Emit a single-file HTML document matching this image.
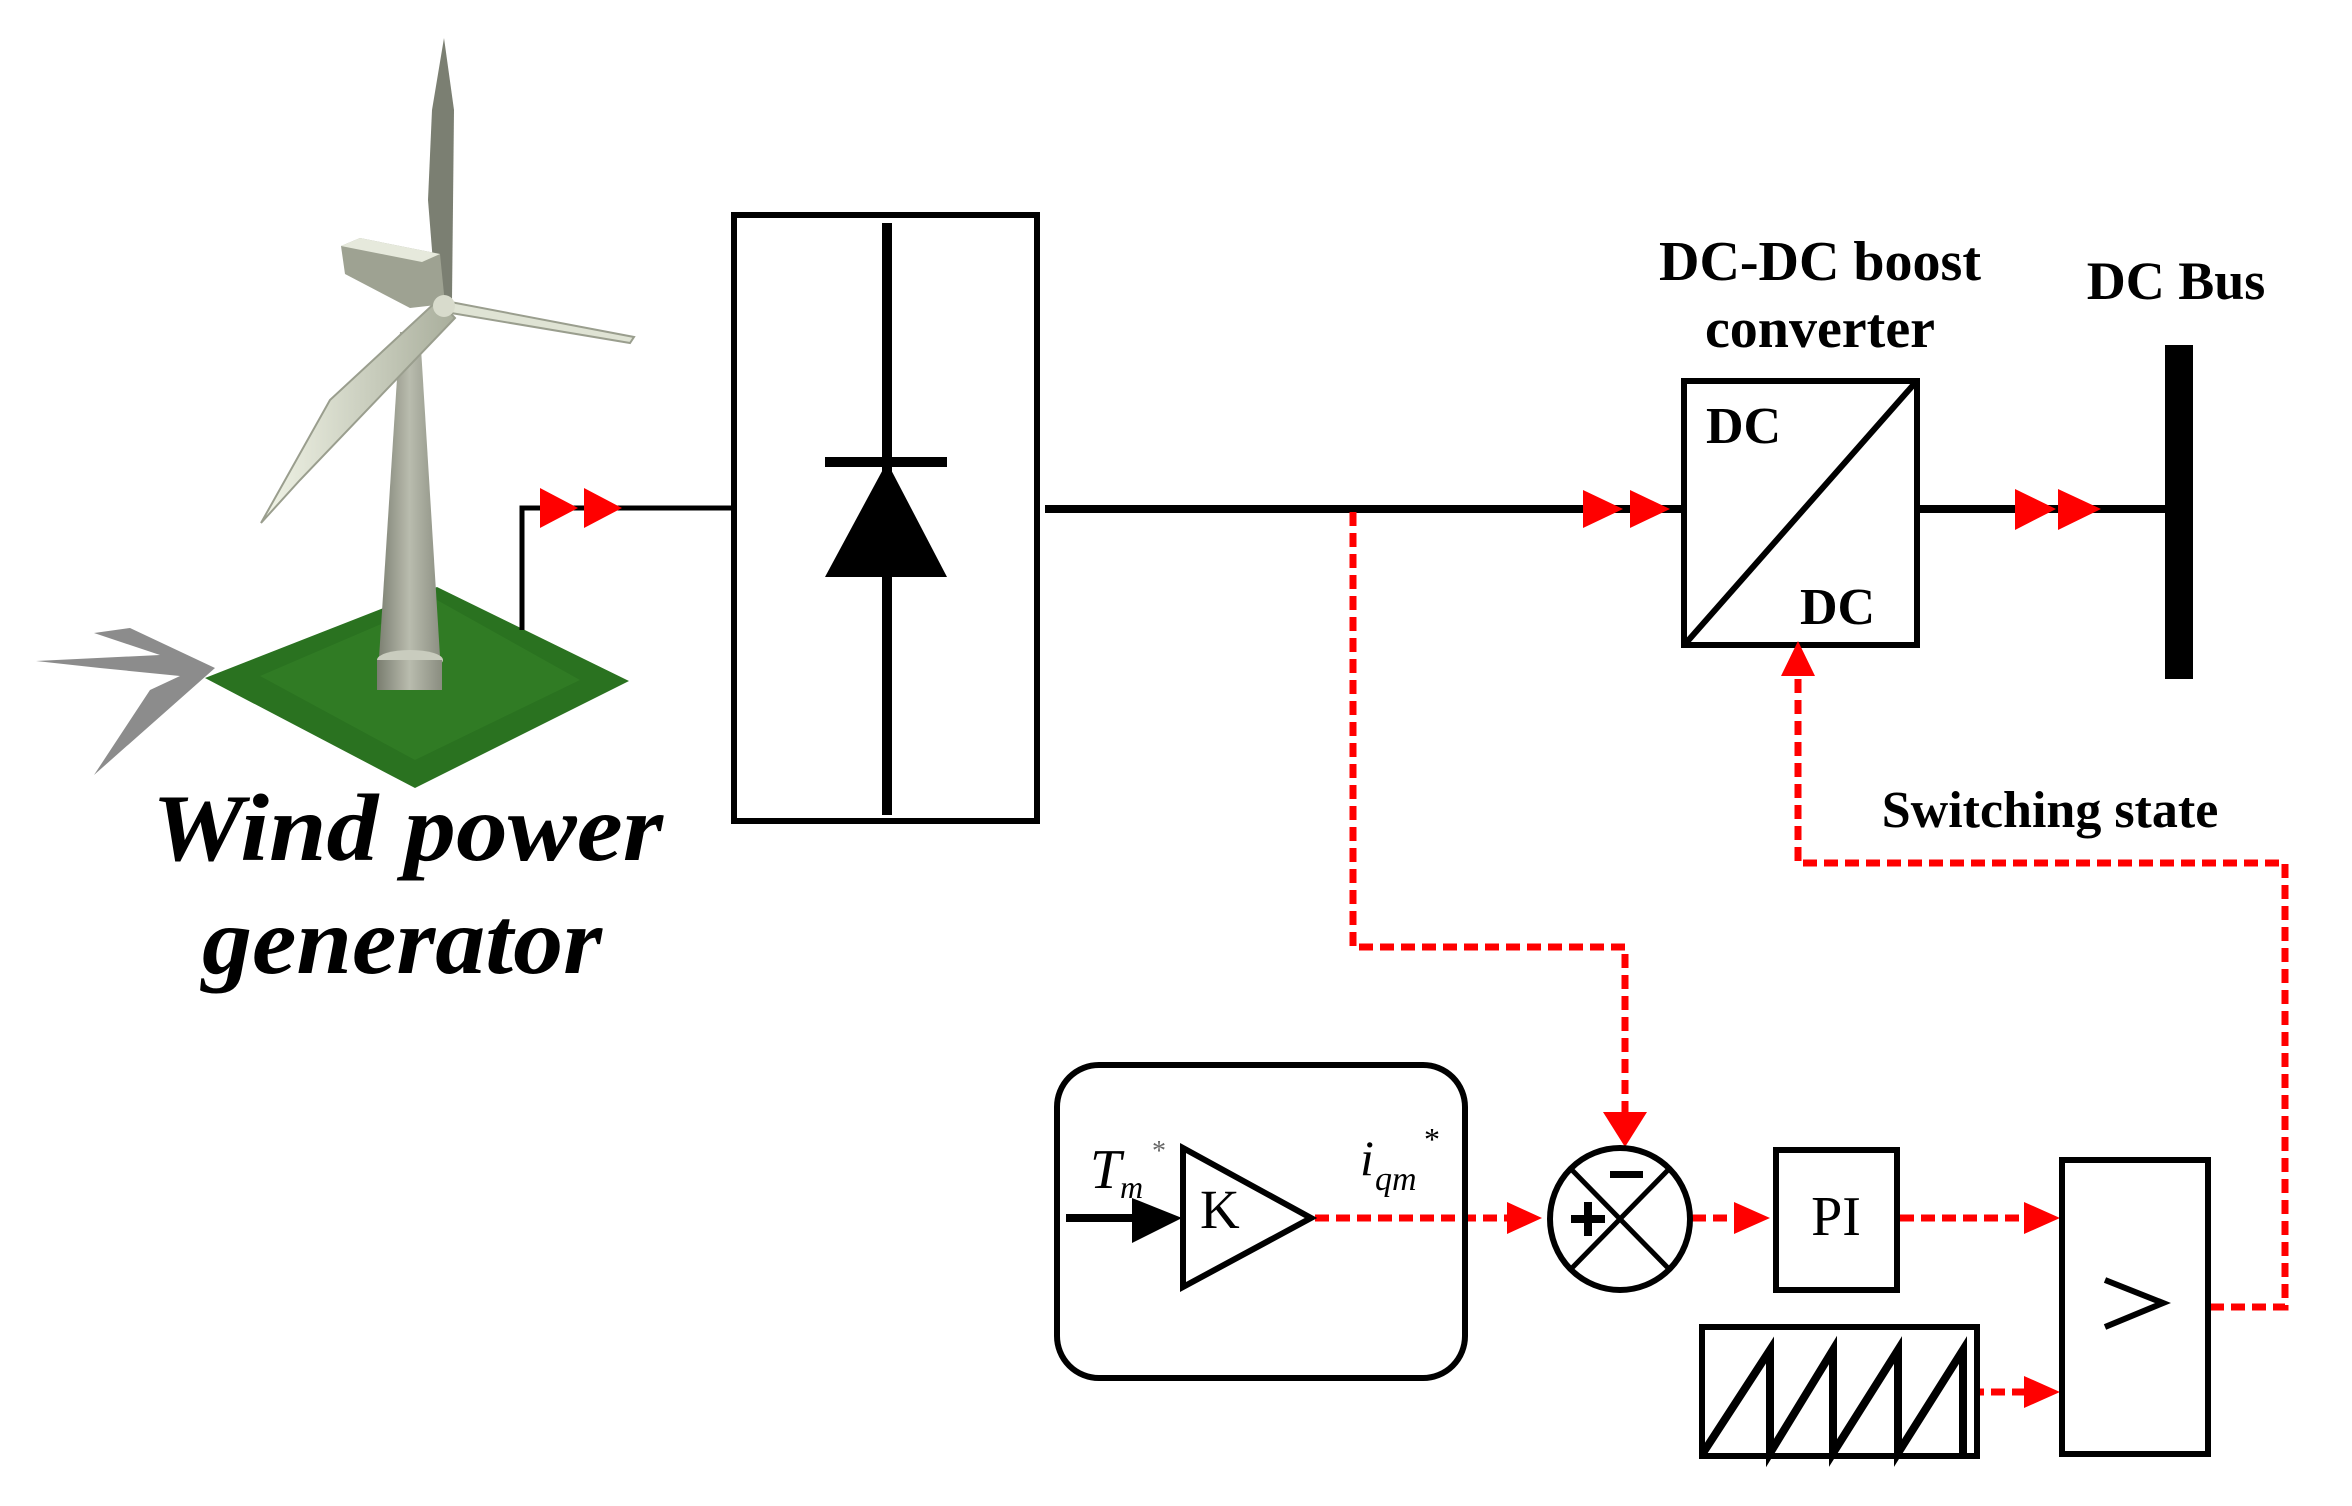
<!DOCTYPE html>
<html><head><meta charset="utf-8"><style>html,body{margin:0;padding:0;background:#fff}svg{display:block}</style></head>
<body>
<svg width="2352" height="1506" viewBox="0 0 2352 1506" xmlns="http://www.w3.org/2000/svg">
<defs>
<linearGradient id="tw" x1="0" x2="1"><stop offset="0" stop-color="#7a7d70"/><stop offset="0.5" stop-color="#b9bcae"/><stop offset="1" stop-color="#8a8d80"/></linearGradient>
<linearGradient id="bl" x1="0" x2="1"><stop offset="0" stop-color="#f2f5e8"/><stop offset="1" stop-color="#a9ae9c"/></linearGradient>
</defs>
<!-- shadow -->
<polygon points="36,661 160,655 94,633 130,628 215,668 94,775 150,690 180,676 100,668" fill="#8c8c8c"/>
<!-- grass -->
<polygon points="205,678 437,587 629,681 415,788" fill="#2a7220"/>
<polygon points="260,676 437,600 580,680 415,760" fill="#3a8a2a" opacity="0.4"/>
<!-- tower -->
<polygon points="400,332 420,332 442,689 377,689" fill="url(#tw)"/>
<ellipse cx="410" cy="660" rx="33" ry="10" fill="#c9ccbe"/>
<rect x="377" y="660" width="65" height="30" fill="url(#tw)"/>
<!-- blades -->
<polygon points="436,300 428,200 432,110 444,38 454,110 452,300" fill="#7b7f72"/>
<polygon points="440,300 634,337 630,343 445,312" fill="#dfe3d4" stroke="#9a9e8e" stroke-width="2"/>
<polygon points="438,300 330,400 261,523 300,480 455,318" fill="url(#bl)" stroke="#9a9e8e" stroke-width="2"/>
<!-- nacelle -->
<polygon points="341,246 360,238 440,254 445,304 410,308 345,274" fill="#9ea292"/>
<polygon points="341,246 360,238 440,254 422,262" fill="#e6e9dc"/>
<circle cx="444" cy="306" r="11" fill="#d8dbcc"/>

<text x="152" y="860" font-family="Liberation Serif, serif" font-style="italic" font-weight="bold" font-size="95" textLength="511" lengthAdjust="spacingAndGlyphs">Wind power</text>
<text x="202" y="973" font-family="Liberation Serif, serif" font-style="italic" font-weight="bold" font-size="95" textLength="400" lengthAdjust="spacingAndGlyphs">generator</text>

<!-- left connection -->
<polyline points="522,630 522,508 734,508" fill="none" stroke="#000" stroke-width="5"/>
<polygon points="540,488 578,508 540,528" fill="#f00"/>
<polygon points="584,488 622,508 584,528" fill="#f00"/>

<!-- rectifier -->
<rect x="734" y="215" width="303" height="606" fill="none" stroke="#000" stroke-width="6"/>
<line x1="887" y1="223" x2="887" y2="815" stroke="#000" stroke-width="10"/>
<line x1="825" y1="462" x2="947" y2="462" stroke="#000" stroke-width="10"/>
<polygon points="887,462 825,577 947,577" fill="#000"/>

<!-- main bus -->
<line x1="1045" y1="509" x2="1682" y2="509" stroke="#000" stroke-width="8"/>
<polygon points="1583,490 1623,509 1583,528" fill="#f00"/>
<polygon points="1630,490 1670,509 1630,528" fill="#f00"/>

<!-- DC-DC -->
<rect x="1684" y="381" width="233" height="264" fill="#fff" stroke="#000" stroke-width="6"/>
<line x1="1686" y1="643" x2="1915" y2="383" stroke="#000" stroke-width="6"/>
<text x="1706" y="443" font-family="Liberation Serif, serif" font-weight="bold" font-size="52">DC</text>
<text x="1800" y="624" font-family="Liberation Serif, serif" font-weight="bold" font-size="52">DC</text>
<text x="1820" y="280" text-anchor="middle" font-family="Liberation Serif, serif" font-weight="bold" font-size="56">DC-DC boost</text>
<text x="1820" y="347" text-anchor="middle" font-family="Liberation Serif, serif" font-weight="bold" font-size="56">converter</text>
<text x="2176" y="299" text-anchor="middle" font-family="Liberation Serif, serif" font-weight="bold" font-size="54">DC Bus</text>

<line x1="1918" y1="509" x2="2166" y2="509" stroke="#000" stroke-width="8"/>
<polygon points="2015,489 2056,509 2015,530" fill="#f00"/>
<polygon points="2058,489 2101,509 2058,530" fill="#f00"/>
<rect x="2165" y="345" width="28" height="334" fill="#000"/>

<text x="2050" y="827" text-anchor="middle" font-family="Liberation Serif, serif" font-weight="bold" font-size="52">Switching state</text>

<!-- feedback dashed -->
<g fill="none" stroke="#f00" stroke-width="7" stroke-dasharray="14,7">
<polyline points="1353,512 1353,947 1625,947 1625,1118"/>
<polyline points="2210,1307 2285,1307 2285,863 1798,863 1798,672"/>
<line x1="1315" y1="1218" x2="1508" y2="1218"/>
<line x1="1692" y1="1218" x2="1736" y2="1218"/>
<line x1="1900" y1="1218" x2="2024" y2="1218"/>
<line x1="1970" y1="1392" x2="2024" y2="1392"/>
</g>
<polygon points="1603,1112 1647,1112 1625,1147" fill="#f00"/>
<polygon points="1781,676 1815,676 1798,641" fill="#f00"/>
<polygon points="1507,1202 1542,1218 1507,1234" fill="#f00"/>
<polygon points="1734,1202 1770,1218 1734,1234" fill="#f00"/>
<polygon points="2024,1202 2060,1218 2024,1234" fill="#f00"/>
<polygon points="2024,1376 2060,1392 2024,1408" fill="#f00"/>

<!-- K block -->
<rect x="1057" y="1065" width="408" height="313" rx="42" fill="none" stroke="#000" stroke-width="6"/>
<line x1="1066" y1="1218" x2="1140" y2="1218" stroke="#000" stroke-width="8"/>
<polygon points="1132,1198 1182,1218 1132,1243" fill="#000"/>
<polygon points="1183,1148 1311,1218 1183,1287" fill="#fff" stroke="#000" stroke-width="6"/>
<text x="1200" y="1228" font-family="Liberation Serif, serif" font-size="55">K</text>
<text x="1090" y="1188" font-family="Liberation Serif, serif" font-style="italic" font-size="56">T</text>
<text x="1120" y="1198" font-family="Liberation Serif, serif" font-style="italic" font-size="32">m</text>
<text x="1152" y="1160" font-family="Liberation Serif, serif" font-size="28" fill="#666">*</text>
<text x="1360" y="1175" font-family="Liberation Serif, serif" font-style="italic" font-size="50">i</text>
<text x="1375" y="1190" font-family="Liberation Serif, serif" font-style="italic" font-size="34">qm</text>
<text x="1424" y="1150" font-family="Liberation Serif, serif" font-size="32">*</text>

<!-- summing junction -->
<ellipse cx="1620" cy="1219" rx="70" ry="71" fill="#fff" stroke="#000" stroke-width="6"/>
<line x1="1571" y1="1169" x2="1669" y2="1269" stroke="#000" stroke-width="5"/>
<line x1="1669" y1="1169" x2="1571" y2="1269" stroke="#000" stroke-width="5"/>
<rect x="1610" y="1171" width="33" height="7" fill="#000"/>
<rect x="1571" y="1215" width="34" height="8" fill="#000"/>
<rect x="1584" y="1202" width="8" height="34" fill="#000"/>

<!-- PI -->
<rect x="1776" y="1150" width="121" height="140" fill="#fff" stroke="#000" stroke-width="6"/>
<text x="1836" y="1235" text-anchor="middle" font-family="Liberation Serif, serif" font-size="56">PI</text>

<!-- sawtooth -->
<rect x="1702" y="1327" width="275" height="129" fill="#fff" stroke="#000" stroke-width="6"/>
<polyline points="1703,1453 1770,1350 1770,1453 1833,1350 1833,1453 1898,1350 1898,1453 1963,1350 1963,1455" fill="none" stroke="#000" stroke-width="8"/>

<!-- comparator -->
<rect x="2062" y="1160" width="146" height="294" fill="#fff" stroke="#000" stroke-width="6"/>
<polyline points="2105,1280 2163,1303 2105,1327" fill="none" stroke="#000" stroke-width="6"/>
</svg>
</body></html>
